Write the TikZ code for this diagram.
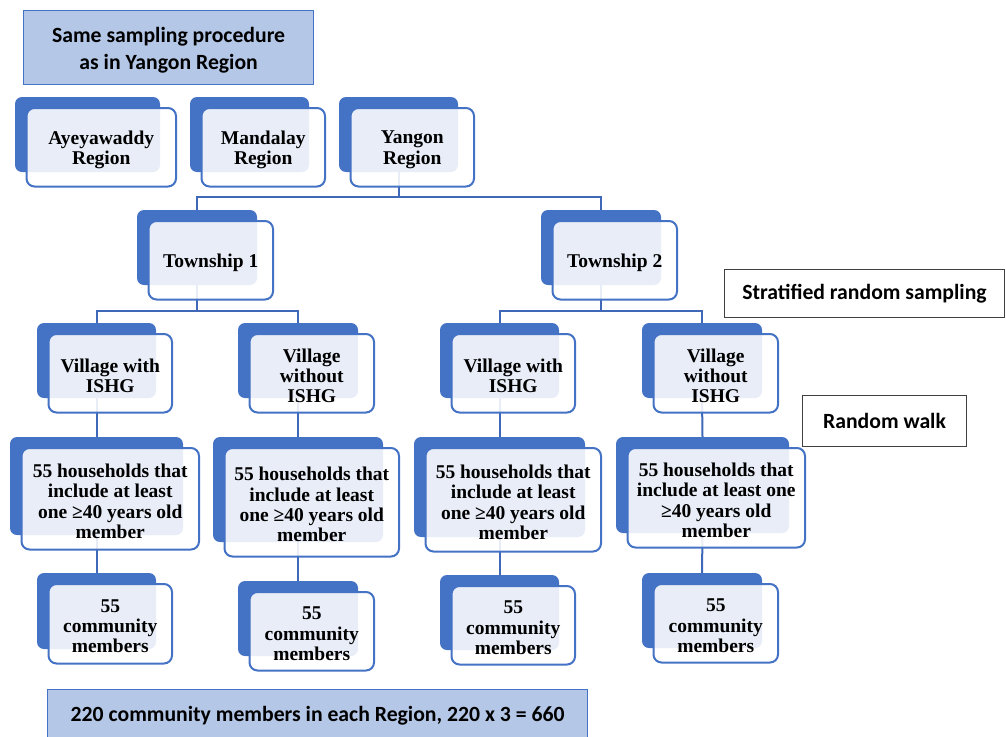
\documentclass[tikz,border=0pt]{standalone}
\usepackage{fontspec}
\setmainfont{Liberation Serif}
\newfontfamily\calib{Carlito}
\usetikzlibrary{backgrounds,calc}
\definecolor{dblue}{HTML}{4472C4}
\definecolor{lblue}{HTML}{B4C7E7}
\definecolor{lnblue}{HTML}{3F69B8}
\tikzset{
  backbox/.style={fill=dblue, draw=none, rounded corners=7pt, inner sep=0pt, outer sep=0pt},
  frontbox/.style={draw=dblue, line width=2pt, fill=white, fill opacity=0.88,
    rounded corners=8pt, inner sep=0pt, outer sep=0pt},
  ftext/.style={inner sep=0pt, align=center, font=\fontsize{19.5}{20.3}\selectfont\bfseries},
  conn/.style={draw=lnblue, line width=2pt},
  bluebox/.style={draw=dblue, line width=1.2pt, fill=lblue, inner sep=0pt, align=center,
    font=\calib\fontsize{21.7}{27}\selectfont\bfseries},
  btext/.style={inner sep=0pt, align=center, font=\calib\fontsize{21.7}{27}\selectfont\bfseries},
  sidebox/.style={draw=black!75, line width=1pt, fill=white, inner sep=0pt, align=center,
    font=\calib\fontsize{21.7}{27}\selectfont\bfseries},
}
\newcommand\dbox[6]{%
  \node[backbox, anchor=north west, minimum width=#4pt, minimum height=#5pt] (#1) at (#2,#3) {};
  \pgfmathsetmacro\fx{#2+11.5}\pgfmathsetmacro\fy{#3+11}%
  \pgfmathsetmacro\fw{#4+4.5}\pgfmathsetmacro\fh{#5+3.5}%
  \node[frontbox, anchor=north west, minimum width=\fw pt, minimum height=\fh pt] (#1f) at (\fx,\fy) {};
  \node[ftext] (#1t) at ($(#1f.center)+(0,2.5)$) {#6};
}
\begin{document}
\begin{tikzpicture}[x=1pt,y=-1pt]
\useasboundingbox (0,0) rectangle (1006,736);
\clip (0,0) rectangle (1006,736);

% top and bottom boxes
\node[bluebox, anchor=north west, minimum width=290pt, minimum height=74pt] (top) at (23,10) {};
\node[btext] (toptext) at ($(top.center)+(0,2.5)$) {Same sampling procedure\\as in Yangon Region};
\node[bluebox, anchor=north west, minimum width=540pt, minimum height=53pt] (bot) at (47,689)
  {220 community members in each Region, 220 x 3 = 660};

% side labels
\node[sidebox, anchor=north west, minimum width=280pt, minimum height=48pt] (strat) at (724,269)
  {Stratified random sampling};
\node[sidebox, anchor=north west, minimum width=164pt, minimum height=51pt] (rw) at (802,395)
  {Random walk};

% regions
\dbox{ay}{15}{97}{145}{75}{Ayeyawaddy\\Region}
\dbox{md}{190}{97}{119}{75}{Mandalay\\Region}
\dbox{yg}{339}{97}{119}{75}{Yangon\\Region}
% townships
\dbox{ta}{137}{210}{120}{75}{Township 1}
\dbox{tb}{541}{210}{120}{75}{Township 2}
% villages
\dbox{va}{37}{323}{119}{75}{Village with\\ISHG}
\dbox{vb}{238}{323}{120}{75}{Village\\without\\ISHG}
\dbox{vc}{440}{323}{119}{75}{Village with\\ISHG}
\dbox{vd}{642}{323}{120}{75}{Village\\without\\ISHG}
% households
\dbox{ha}{10}{437}{173}{98}{55 households that\\include at least\\one ≥40 years old\\member}
\dbox{hb}{213}{437}{170}{105}{55 households that\\include at least\\one ≥40 years old\\member}
\dbox{hc}{414}{437}{171}{100}{55 households that\\include at least\\one ≥40 years old\\member}
\dbox{hd}{616}{437}{173}{96}{55 households that\\include at least one\\≥40 years old\\member}
% community members
\dbox{ca}{37}{573}{119}{76}{55\\community\\members}
\dbox{cb}{238}{581}{120}{75}{55\\community\\members}
\dbox{cc}{440}{575}{119}{75}{55\\community\\members}
\dbox{cd}{642}{573}{120}{75}{55\\community\\members}

\begin{scope}[on background layer]
  \coordinate (bus1) at ($(ta.north)+(0,-13)$);
  \draw[conn] (ta.north) -- (bus1) -| (tb.north);
  \draw[conn] (yg.south) -- (yg.south |- bus1);
  \coordinate (bus2) at ($(va.north)+(0,-12)$);
  \draw[conn] (va.north) -- (bus2) -| (vb.north);
  \draw[conn] (ta.south) -- (ta.south |- bus2);
  \coordinate (bus3) at ($(vc.north)+(0,-12)$);
  \draw[conn] (vc.north) -- (bus3) -| (vd.north);
  \draw[conn] (tb.south) -- (tb.south |- bus3);
  \draw[conn] (va.south) -- (ha.north);
  \draw[conn] (vb.south) -- (hb.north);
  \draw[conn] (vc.south) -- (hc.north);
  \draw[conn] (vd.south) -- (hd.north);
  \draw[conn] (ha.south) -- (ca.north);
  \draw[conn] (hb.south) -- (cb.north);
  \draw[conn] (hc.south) -- (cc.north);
  \draw[conn] (hd.south) -- (cd.north);
\end{scope}
\end{tikzpicture}
\end{document}
